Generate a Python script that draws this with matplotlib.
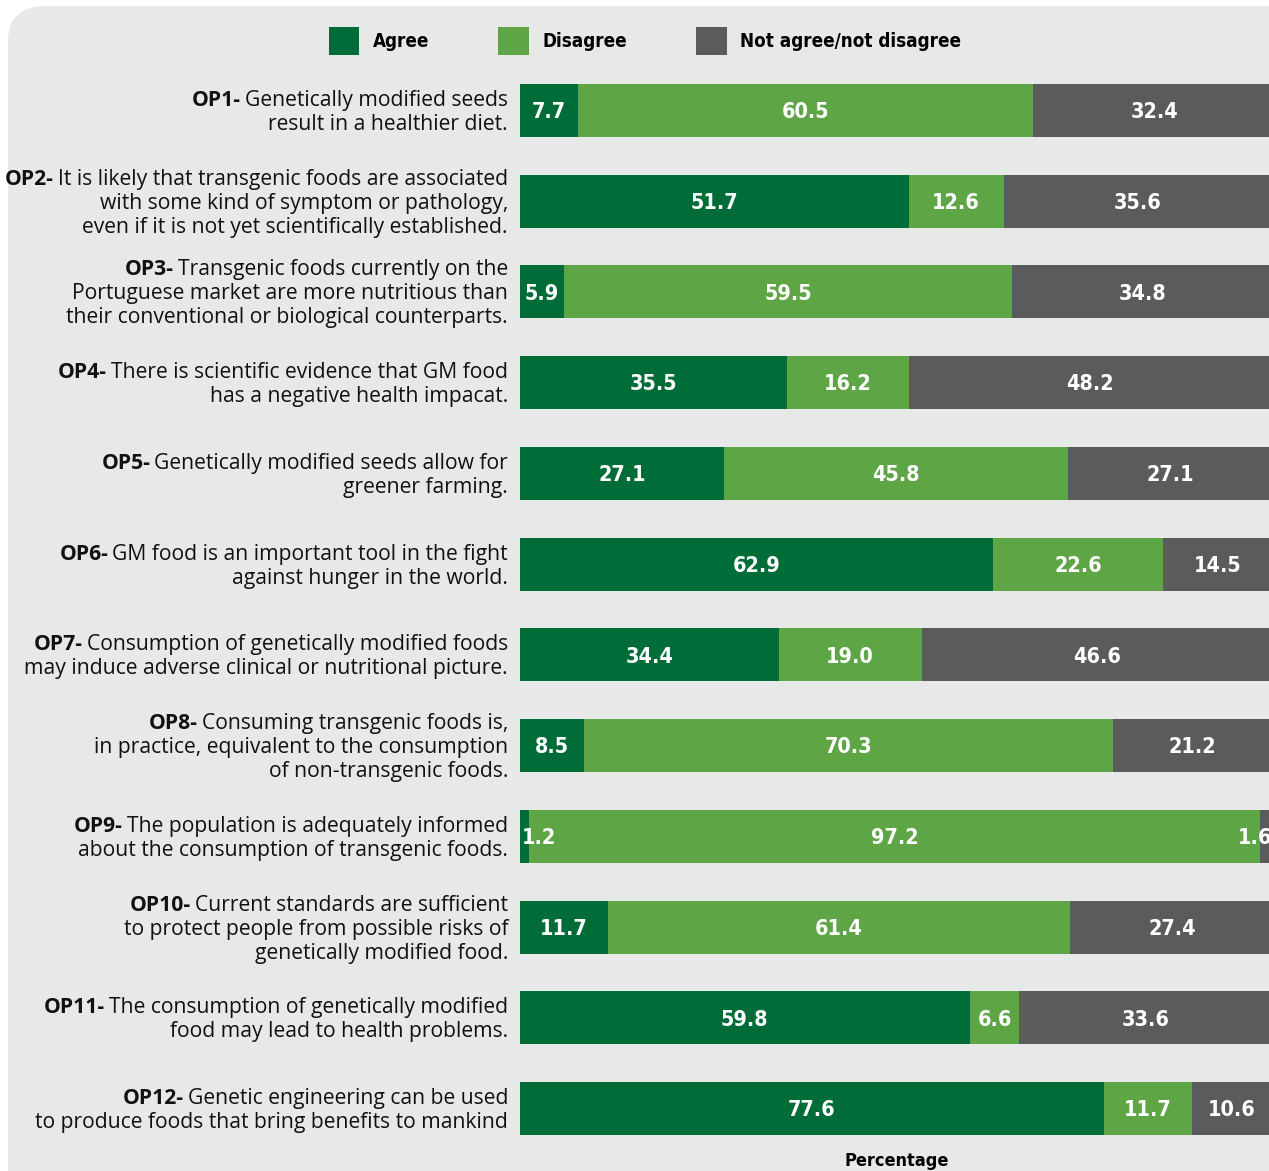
import matplotlib
matplotlib.use("Agg")
import matplotlib.pyplot as plt
from matplotlib.patches import FancyBboxPatch, Patch

# data
codes = ["OP1-", "OP2-", "OP3-", "OP4-", "OP5-", "OP6-", "OP7-", "OP8-", "OP9-", "OP10-", "OP11-", "OP12-"]
statements = [
    ["Genetically modified seeds", "result in a healthier diet."],
    ["It is likely that transgenic foods are associated", "with some kind of symptom or pathology,",
     "even if it is not yet scientifically established."],
    ["Transgenic foods currently on the", "Portuguese market are more nutritious than",
     "their conventional or biological counterparts."],
    ["There is scientific evidence that GM food", "has a negative health impacat."],
    ["Genetically modified seeds allow for", "greener farming."],
    ["GM food is an important tool in the fight", "against hunger in the world."],
    ["Consumption of genetically modified foods", "may induce adverse clinical or nutritional picture."],
    ["Consuming transgenic foods is,", "in practice, equivalent to the consumption", "of non-transgenic foods."],
    ["The population is adequately informed", "about the consumption of transgenic foods."],
    ["Current standards are sufficient", "to protect people from possible risks of", "genetically modified food."],
    ["The consumption of genetically modified", "food may lead to health problems."],
    ["Genetic engineering can be used", "to produce foods that bring benefits to mankind"],
]
agree = [7.7, 51.7, 5.9, 35.5, 27.1, 62.9, 34.4, 8.5, 1.2, 11.7, 59.8, 77.6]
disagree = [60.5, 12.6, 59.5, 16.2, 45.8, 22.6, 19.0, 70.3, 97.2, 61.4, 6.6, 11.7]
neutral = [32.4, 35.6, 34.8, 48.2, 27.1, 14.5, 46.6, 21.2, 1.6, 27.4, 33.6, 10.6]
series_names = ["Agree", "Disagree", "Not agree/not disagree"]

colors = ["#006c37", "#5ea546", "#5a5b5d"]
bg = "#e6e9e8"
label_font = "Open Sans"
num_kw = dict(family="DejaVu Sans", fontstretch="condensed", fontweight="bold")

W, H = 1269, 1171
fig = plt.figure(figsize=(W / 100, H / 100), dpi=100)
fig.patch.set_facecolor("white")

# rounded grey panel behind everything
panel = FancyBboxPatch((8 / W, -0.2), 1.3, 1 - 6 / H + 0.2,
                       boxstyle="round,pad=0,rounding_size=0.03",
                       transform=fig.transFigure, facecolor=bg, edgecolor="none", zorder=-10)
fig.patches.append(panel)

ax_top, ax_bot = 65, 1154
ax = fig.add_axes([520 / W, 1 - ax_bot / H, 1 - 520 / W, (ax_bot - ax_top) / H])
ax.set_zorder(1)
ax.set_facecolor("none")
n = len(agree)
ys = list(range(n))
left = [0] * n
for k, (vals, c) in enumerate(zip([agree, disagree, neutral], colors)):
    bars = ax.barh(ys, vals, left=left, height=0.584, color=c, edgecolor="none")
    for b, v in zip(bars, vals):
        x, ha = b.get_x() + b.get_width() / 2, "center"
        if v < 3 and k == 0:
            x, ha = b.get_x() + 0.3, "left"
        elif v < 3 and k == 2:
            x, ha = b.get_x() + b.get_width(), "right"
        ax.text(x, b.get_y() + b.get_height() / 2 + 0.02, f"{v:.1f}",
                ha=ha, va="center", color="white", fontsize=15.5, **num_kw)
    left = [l + v for l, v in zip(left, vals)]

ax.set_xlim(0, 99.6)
ax.set_ylim(n - 0.5, -0.5)
ax.set_xticks([])
ax.set_yticks([])
for s in ax.spines.values():
    s.set_visible(False)

fig.text(897 / W, 1 - 1161 / H, "Percentage", ha="center", va="center", fontsize=13, **num_kw)

# statement labels, right aligned, bold code in front of first line
line_px = 24
fs = 15.2
first_lines = []
for i, (code, lines) in enumerate(zip(codes, statements)):
    k = len(lines)
    for j, line in enumerate(lines):
        dy = -((j - (k - 1) / 2) * line_px + 2) * 0.72
        t = ax.annotate(line, xy=(0, i), xycoords=("axes fraction", "data"),
                        xytext=(-12 * 0.72, dy), textcoords="offset points", annotation_clip=False,
                        ha="right", va="center", fontsize=fs, family=label_font, color="#111111")
        if j == 0:
            first_lines.append((t, code))

fig.canvas.draw()
r = fig.canvas.get_renderer()
for t, code in first_lines:
    bb = t.get_window_extent(r)
    fig.text(bb.x0 - 4, (bb.y0 + bb.y1) / 2, code, transform=None, ha="right", va="center",
             fontsize=fs, fontweight="bold", family=label_font, color="#111111")

handles = [Patch(facecolor=c, edgecolor="none") for c in colors]
fig.legend(handles, series_names, loc="center", bbox_to_anchor=(645 / W, 1 - 41 / H),
           ncol=3, frameon=False, handlelength=1.65, handleheight=2.0, handletextpad=0.7,
           columnspacing=3.7, prop={"family": "DejaVu Sans", "stretch": "condensed",
                                    "weight": "bold", "size": 13.5})

fig.savefig("out.png", dpi=100, facecolor="white")
